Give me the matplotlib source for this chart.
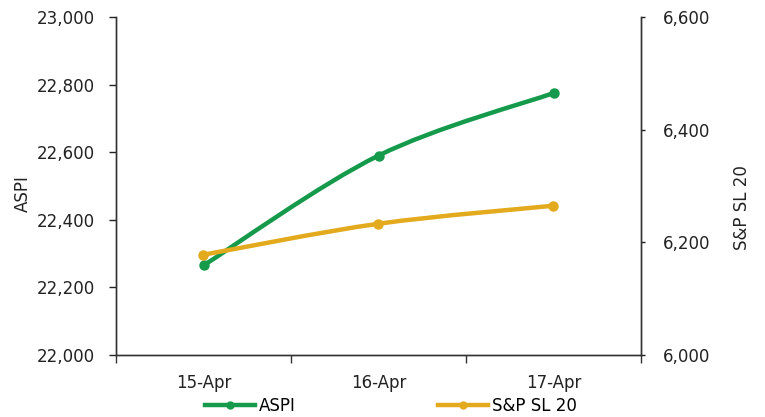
import matplotlib
matplotlib.use("Agg")
import matplotlib.pyplot as plt
from matplotlib.path import Path
from matplotlib.patches import PathPatch
from matplotlib.lines import Line2D
from matplotlib.ticker import FuncFormatter, FixedLocator
import numpy as np

categories = ["15-Apr", "16-Apr", "17-Apr"]
aspi = [22265, 22590, 22775]
snp = [6178, 6233, 6265]

GREEN = "#149a4a"
GOLD = "#e2aa1c"
FS = 12
plt.rcParams["font.family"] = ["DejaVu Sans"]
plt.rcParams["font.size"] = FS

fig = plt.figure(figsize=(7.65, 4.17), dpi=100)
ax = fig.add_axes([116/765, 1-355/417, (641-116)/765, (355-17)/417])
ax2 = ax.twinx()

x = np.arange(len(categories))

def smooth_path(xs, ys):
    pts = np.column_stack([xs, ys]).astype(float)
    n = len(pts)
    verts = [pts[0]]
    codes = [Path.MOVETO]
    for i in range(n - 1):
        p0 = pts[i - 1] if i > 0 else pts[i]
        p1 = pts[i]
        p2 = pts[i + 1]
        p3 = pts[i + 2] if i + 2 < n else pts[i + 1]
        c1 = p1 + (p2 - p0) / 6.0
        c2 = p2 - (p3 - p1) / 6.0
        verts += [c1, c2, p2]
        codes += [Path.CURVE4] * 3
    return Path(verts, codes)

def draw(a, ys, color):
    patch = PathPatch(smooth_path(x, ys), facecolor="none", edgecolor=color,
                      lw=3.2, capstyle="round", joinstyle="round", zorder=3)
    a.add_patch(patch)
    a.plot(x, ys, "o", color=color, ms=6.5, zorder=4)

draw(ax, aspi, GREEN)
draw(ax2, snp, GOLD)

ax.set_xlim(-0.5, 2.5)
ax.set_ylim(22000, 23000)
ax2.set_ylim(6000, 6600)
ax.set_yticks(np.arange(22000, 23001, 200))
ax2.set_yticks(np.arange(6000, 6601, 200))
fmt = FuncFormatter(lambda v, p: f"{v:,.0f}")
ax.yaxis.set_major_formatter(fmt)
ax2.yaxis.set_major_formatter(fmt)

ax.set_xticks(x)
ax.set_xticklabels(categories)
ax.xaxis.set_minor_locator(FixedLocator([-0.5, 0.5, 1.5, 2.5]))
ax.tick_params(axis="x", which="major", length=0, pad=14, labelsize=FS, colors="#222222")
ax.tick_params(axis="x", which="minor", length=6, width=1, direction="out", color="#333333")
ax.tick_params(axis="y", length=5, width=1, pad=10, labelsize=FS, colors="#222222")
ax2.tick_params(axis="y", length=3, width=1, pad=13, labelsize=FS, colors="#222222")

for a in (ax, ax2):
    a.spines["top"].set_visible(False)
    for s in ("left", "right", "bottom"):
        a.spines[s].set_color("#333333")
        a.spines[s].set_linewidth(1)

fig.text(23/765, 1-194/417, "ASPI", rotation=90, ha="center", va="center", fontsize=FS, color="#222222")
fig.text(742/765, 1-208/417, "S&P SL 20", rotation=90, ha="center", va="center", fontsize=FS, color="#222222")

handles = [Line2D([], [], color=GREEN, lw=3.2, marker="o", ms=5),
           Line2D([], [], color=GOLD, lw=3.2, marker="o", ms=5)]
fig.legend(handles, ["ASPI", "S&P SL 20"], loc="center", bbox_to_anchor=(391/765, 1-406/417),
           ncol=2, frameon=False, handlelength=3.0, handletextpad=0.25, columnspacing=8.5,
           fontsize=FS, borderpad=0, borderaxespad=0)

fig.savefig("out.png", dpi=100)
